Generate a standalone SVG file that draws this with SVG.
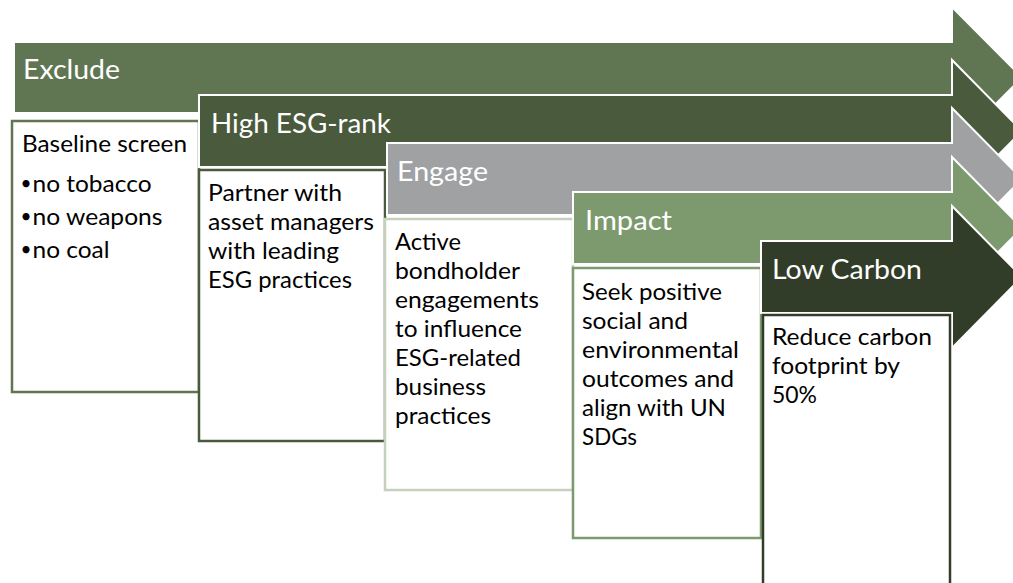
<svg xmlns="http://www.w3.org/2000/svg" width="1013" height="583" viewBox="0 0 1013 583">
<style>
.arrow{stroke:#ffffff;stroke-width:2;stroke-linejoin:miter}
.box{fill:#ffffff;stroke-width:2.5}
.title{font-family:Lato,"Liberation Sans",sans-serif;font-size:27.8px;fill:#ffffff}
.body{font-family:Lato,"Liberation Sans",sans-serif;font-size:23.5px;fill:#000000}
.bullet{font-family:Lato,"Liberation Sans",sans-serif;font-size:19px;fill:#000000}
</style>
<rect x="0" y="0" width="1013" height="583" fill="#ffffff"/>
<g id="node-exclude">
<polygon class="arrow" fill="#607652" points="14,42 952,42 952,7 1022,77.5 952,148 952,113 14,113"/>
<text class="title" x="23" y="79" textLength="97" lengthAdjust="spacingAndGlyphs">Exclude</text>
<rect class="box" stroke="#607652" x="12" y="121" width="187" height="271"/>
<text class="body" x="22" y="152" textLength="165" lengthAdjust="spacingAndGlyphs">Baseline screen</text>
<text class="bullet" x="20.5" y="190">•</text>
<text class="body" x="32.5" y="192" textLength="119" lengthAdjust="spacingAndGlyphs">no tobacco</text>
<text class="bullet" x="20.5" y="223">•</text>
<text class="body" x="32.5" y="225" textLength="130" lengthAdjust="spacingAndGlyphs">no weapons</text>
<text class="bullet" x="20.5" y="256">•</text>
<text class="body" x="32.5" y="258" textLength="77" lengthAdjust="spacingAndGlyphs">no coal</text>
</g>
<g id="node-high-esg-rank">
<polygon class="arrow" fill="#4a5a3c" points="199,95 952,95 952,60 1022,131 952,202 952,167 199,167"/>
<text class="title" x="211" y="133" textLength="180" lengthAdjust="spacingAndGlyphs">High ESG-rank</text>
<rect class="box" stroke="#4a5a3c" x="199" y="170" width="186" height="271"/>
<text class="body" x="208" y="201" textLength="134" lengthAdjust="spacingAndGlyphs">Partner with</text>
<text class="body" x="208" y="230" textLength="166" lengthAdjust="spacingAndGlyphs">asset managers</text>
<text class="body" x="208" y="259" textLength="131" lengthAdjust="spacingAndGlyphs">with leading</text>
<text class="body" x="208" y="288" textLength="144" lengthAdjust="spacingAndGlyphs">ESG practices</text>
</g>
<g id="node-engage">
<polygon class="arrow" fill="#a0a1a3" points="387,143 952,143 952,108 1022,179 952,250 952,215 387,215"/>
<text class="title" x="397" y="181" textLength="91" lengthAdjust="spacingAndGlyphs">Engage</text>
<rect class="box" stroke="#c5d1bd" x="385" y="219" width="188" height="271"/>
<text class="body" x="395" y="250" textLength="66" lengthAdjust="spacingAndGlyphs">Active</text>
<text class="body" x="395" y="279" textLength="125" lengthAdjust="spacingAndGlyphs">bondholder</text>
<text class="body" x="395" y="308" textLength="144" lengthAdjust="spacingAndGlyphs">engagements</text>
<text class="body" x="395" y="337" textLength="127" lengthAdjust="spacingAndGlyphs">to influence</text>
<text class="body" x="395" y="366" textLength="126" lengthAdjust="spacingAndGlyphs">ESG-related</text>
<text class="body" x="395" y="395" textLength="91" lengthAdjust="spacingAndGlyphs">business</text>
<text class="body" x="395" y="424" textLength="96" lengthAdjust="spacingAndGlyphs">practices</text>
</g>
<g id="node-impact">
<polygon class="arrow" fill="#7d996e" points="573,192 952,192 952,157 1022,228 952,299 952,264 573,264"/>
<text class="title" x="585" y="229.5" textLength="87" lengthAdjust="spacingAndGlyphs">Impact</text>
<rect class="box" stroke="#7d996e" x="573" y="268" width="188" height="270"/>
<text class="body" x="582" y="300" textLength="140" lengthAdjust="spacingAndGlyphs">Seek positive</text>
<text class="body" x="582" y="329" textLength="106" lengthAdjust="spacingAndGlyphs">social and</text>
<text class="body" x="582" y="358" textLength="157" lengthAdjust="spacingAndGlyphs">environmental</text>
<text class="body" x="582" y="387" textLength="152" lengthAdjust="spacingAndGlyphs">outcomes and</text>
<text class="body" x="582" y="416" textLength="144" lengthAdjust="spacingAndGlyphs">align with UN</text>
<text class="body" x="582" y="445" textLength="55" lengthAdjust="spacingAndGlyphs">SDGs</text>
</g>
<g id="node-low-carbon">
<polygon class="arrow" fill="#313d29" points="761,241 952,241 952,206 1022,277 952,348 952,313 761,313"/>
<text class="title" x="772" y="279" textLength="150" lengthAdjust="spacingAndGlyphs">Low Carbon</text>
<rect class="box" stroke="#313d29" x="763" y="315" width="187" height="280"/>
<text class="body" x="772" y="345" textLength="160" lengthAdjust="spacingAndGlyphs">Reduce carbon</text>
<text class="body" x="772" y="374" textLength="128" lengthAdjust="spacingAndGlyphs">footprint by</text>
<text class="body" x="772" y="403" textLength="45" lengthAdjust="spacingAndGlyphs">50%</text>
</g>
<g id="connectors"/>
</svg>
